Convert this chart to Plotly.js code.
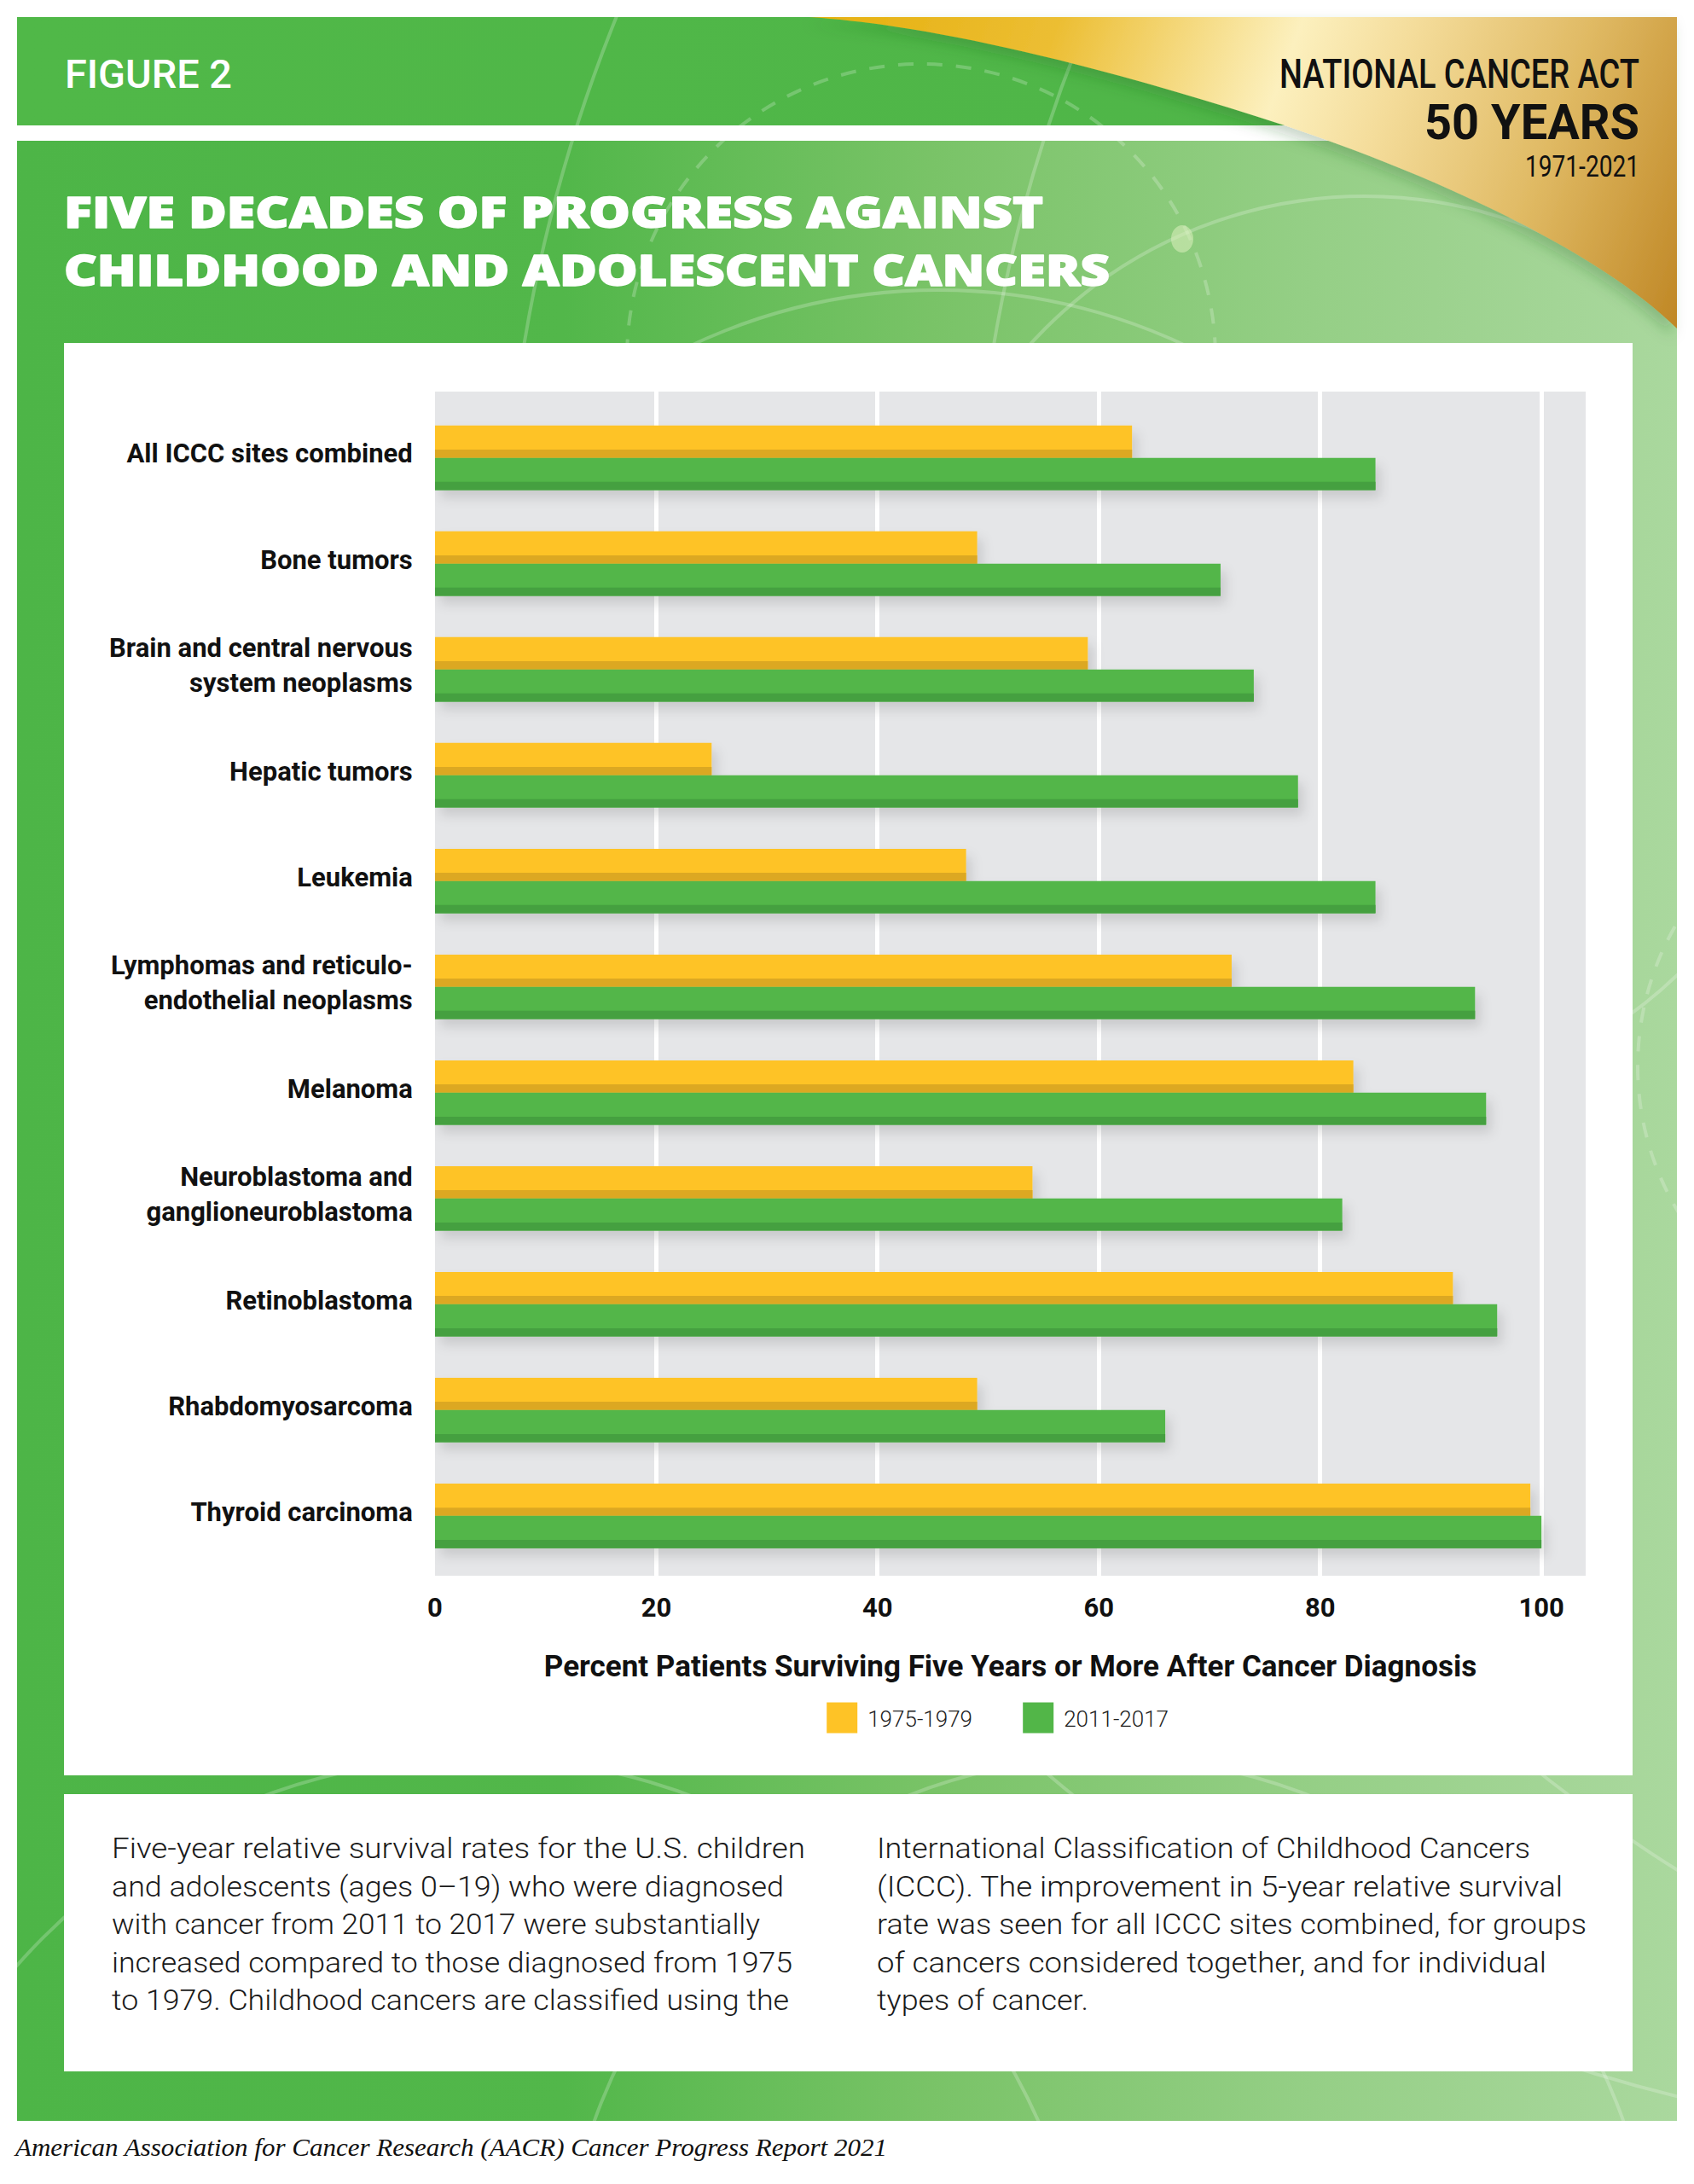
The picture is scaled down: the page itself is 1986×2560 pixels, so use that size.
<!DOCTYPE html>
<html>
<head>
<meta charset="utf-8">
<script src="https://cdn.plot.ly/plotly-3.0.1.min.js"></script>
<style>
  html, body { margin:0; padding:0; background:#fff; }
  body { width:1986px; height:2560px; position:relative; overflow:hidden; }
  #bg { position:absolute; left:0; top:0; }
  #chart { position:absolute; left:75px; top:402px; width:1839px; height:1679px; }
  #chart .barlayer { filter:url(#barShadow); }
</style>
</head>
<body>
<svg id="bg" width="1986" height="2560" xmlns="http://www.w3.org/2000/svg">
  <defs>
    <linearGradient id="panelGrad" gradientUnits="userSpaceOnUse" x1="20" y1="0" x2="1966" y2="0">
      <stop offset="0" stop-color="#4DB547"/>
      <stop offset="0.33" stop-color="#52B74A"/>
      <stop offset="0.55" stop-color="#79C367"/>
      <stop offset="0.78" stop-color="#95CF86"/>
      <stop offset="1" stop-color="#AAD89E"/>
    </linearGradient>
    <linearGradient id="headGrad" gradientUnits="userSpaceOnUse" x1="20" y1="0" x2="1966" y2="0">
      <stop offset="0" stop-color="#50B848"/>
      <stop offset="1" stop-color="#4FB548"/>
    </linearGradient>
    <linearGradient id="goldGrad" gradientUnits="userSpaceOnUse" x1="960" y1="20" x2="1960" y2="390">
      <stop offset="0" stop-color="#E6B00F"/>
      <stop offset="0.25" stop-color="#ECBE33"/>
      <stop offset="0.5" stop-color="#FCF0BE"/>
      <stop offset="0.62" stop-color="#F4DC9A"/>
      <stop offset="0.8" stop-color="#E0BA64"/>
      <stop offset="1" stop-color="#C08826"/>
    </linearGradient>
    <clipPath id="frameClip">
      <rect x="20" y="20" width="1946" height="127"/>
      <rect x="20" y="165" width="1946" height="2321"/>
    </clipPath>
    <filter id="barShadow" x="-5%" y="-5%" width="112%" height="115%">
      <feDropShadow dx="6" dy="9" stdDeviation="7" flood-color="#000" flood-opacity="0.12"/>
    </filter>
    <filter id="goldShadow" x="-10%" y="-10%" width="120%" height="140%">
      <feDropShadow dx="-6" dy="8" stdDeviation="8" flood-color="#1d5a1a" flood-opacity="0.25"/>
    </filter>
  </defs>

  <!-- frame -->
  <rect x="20" y="20" width="1946" height="127" fill="url(#headGrad)"/>
  <rect x="20" y="165" width="1946" height="2321" fill="url(#panelGrad)"/>

  <!-- decorative orbits -->
  <g clip-path="url(#frameClip)" fill="none" stroke="rgba(255,255,255,0.22)" stroke-width="4">
    <circle cx="2400" cy="700" r="1810"/>
    <circle cx="2900" cy="700" r="1760"/>
    <circle cx="1100" cy="1020" r="680"/>
    <circle cx="1600" cy="760" r="530"/>
    <circle cx="1080" cy="420" r="345" stroke-dasharray="18 16"/>
    <circle cx="560" cy="2780" r="720"/>
    <circle cx="1300" cy="2700" r="640"/>
    <circle cx="2250" cy="1250" r="330" stroke-dasharray="18 16"/>
  </g>
  <ellipse cx="1386" cy="280" rx="13" ry="16" fill="rgba(220,240,190,0.55)"/>

  <!-- gold corner -->
  <path d="M949,20 C1100,30 1300,80 1506,147 C1700,212 1880,300 1966,385 L1966,20 Z" fill="url(#goldGrad)" filter="url(#goldShadow)"/>

  <!-- header texts -->
  <text x="76" y="103" font-family="Roboto, sans-serif" font-weight="500" font-size="46" fill="#ffffff" textLength="196" lengthAdjust="spacingAndGlyphs">FIGURE 2</text>
  <g id="badge" font-family="Roboto, sans-serif" fill="#111" text-anchor="end">
    <text class="fit" data-w="422" data-x="1922" data-y="103" font-weight="500" font-size="48">NATIONAL CANCER ACT</text>
    <text class="fit" data-w="252" data-x="1922" data-y="163" font-weight="700" font-size="58">50 YEARS</text>
    <text class="fit" data-w="134" data-x="1922" data-y="207" font-weight="400" font-size="35">1971-2021</text>
  </g>

  <g font-family="'Open Sans', Roboto, sans-serif" font-weight="800" font-size="50" fill="#ffffff" stroke="#ffffff" stroke-width="1.4" stroke-linejoin="round">
    <text x="75" y="267" textLength="1148" lengthAdjust="spacingAndGlyphs">FIVE DECADES OF PROGRESS AGAINST</text>
    <text x="75" y="335" textLength="1226" lengthAdjust="spacingAndGlyphs">CHILDHOOD AND ADOLESCENT CANCERS</text>
  </g>

  <!-- chart card -->
  <rect x="75" y="402" width="1839" height="1679" fill="#ffffff"/>

  <!-- caption box -->
  <rect x="75" y="2103" width="1839" height="325" fill="#ffffff"/>
  <g font-family="Roboto, sans-serif" font-weight="300" font-size="33" fill="#1a1a1a">
    <text x="131" y="2178" textLength="813" lengthAdjust="spacingAndGlyphs">Five-year relative survival rates for the U.S. children</text>
    <text x="131" y="2222.5" textLength="788" lengthAdjust="spacingAndGlyphs">and adolescents (ages 0–19) who were diagnosed</text>
    <text x="131" y="2267" textLength="760" lengthAdjust="spacingAndGlyphs">with cancer from 2011 to 2017 were substantially</text>
    <text x="131" y="2311.5" textLength="798" lengthAdjust="spacingAndGlyphs">increased compared to those diagnosed from 1975</text>
    <text x="131" y="2356" textLength="794" lengthAdjust="spacingAndGlyphs">to 1979. Childhood cancers are classified using the</text>
    <text x="1028" y="2178" textLength="766" lengthAdjust="spacingAndGlyphs">International Classification of Childhood Cancers</text>
    <text x="1028" y="2222.5" textLength="804" lengthAdjust="spacingAndGlyphs">(ICCC). The improvement in 5-year relative survival</text>
    <text x="1028" y="2267" textLength="832" lengthAdjust="spacingAndGlyphs">rate was seen for all ICCC sites combined, for groups</text>
    <text x="1028" y="2311.5" textLength="785" lengthAdjust="spacingAndGlyphs">of cancers considered together, and for individual</text>
    <text x="1028" y="2356" textLength="248" lengthAdjust="spacingAndGlyphs">types of cancer.</text>
  </g>

  <!-- source -->
  <text x="18" y="2527" font-family="'Liberation Serif', 'DejaVu Serif', serif" font-style="italic" font-size="30" fill="#111" textLength="1022" lengthAdjust="spacingAndGlyphs">American Association for Cancer Research (AACR) Cancer Progress Report 2021</text>
</svg>

<div id="chart"></div>

<script>
// condensed badge lettering: scale each line horizontally to its measured width
function fitBadge(){
  document.querySelectorAll("#badge text.fit").forEach(function(t){
    t.setAttribute("x", 0); t.setAttribute("y", 0);
    var natural = t.getComputedTextLength() || 1;
    var sx = (+t.dataset.w) / natural;
    t.setAttribute("transform", "translate(" + t.dataset.x + "," + t.dataset.y + ") scale(" + sx.toFixed(4) + ",1)");
  });
}
fitBadge();
if (document.fonts && document.fonts.ready) document.fonts.ready.then(fitBadge);

// ---- data ----
const categories = [
  "All ICCC sites combined",
  "Bone tumors",
  "Brain and central nervous<br>system neoplasms",
  "Hepatic tumors",
  "Leukemia",
  "Lymphomas and reticulo-<br>endothelial neoplasms",
  "Melanoma",
  "Neuroblastoma and<br>ganglioneuroblastoma",
  "Retinoblastoma",
  "Rhabdomyosarcoma",
  "Thyroid carcinoma"
];
const survival_1975_1979 = [63, 49, 59, 25, 48, 72, 83, 54, 92, 49, 99];
const survival_2011_2017 = [85, 71, 74, 78, 85, 94, 95, 82, 96, 66, 100];
const seriesNames = ["1975-1979", "2011-2017"];
const xTickValues = [0, 20, 40, 60, 80, 100];
const xAxisTitle = "Percent Patients Surviving Five Years or More After Cancer Diagnosis";

// ---- styling ----
const YELLOW = "#FEC326", YELLOW_DARK = "#DCA823";
const GREEN = "#52B648", GREEN_DARK = "#45A03F";
const BAR_W = 0.305, STRIP_W = 0.078;
const LABEL_FONT = "Roboto, sans-serif";

const traces = [
  { type:"bar", orientation:"h", name:seriesNames[0], y:categories, x:survival_1975_1979,
    marker:{color:YELLOW}, width:BAR_W, offset:-BAR_W, hoverinfo:"x+y" },
  { type:"bar", orientation:"h", name:seriesNames[0]+" shade", y:categories, x:survival_1975_1979,
    marker:{color:YELLOW_DARK}, width:STRIP_W, offset:-STRIP_W, showlegend:false, hoverinfo:"skip" },
  { type:"bar", orientation:"h", name:seriesNames[1], y:categories, x:survival_2011_2017,
    marker:{color:GREEN}, width:BAR_W, offset:0, hoverinfo:"x+y" },
  { type:"bar", orientation:"h", name:seriesNames[1]+" shade", y:categories, x:survival_2011_2017,
    marker:{color:GREEN_DARK}, width:STRIP_W, offset:BAR_W-STRIP_W, showlegend:false, hoverinfo:"skip" }
];

const layout = {
  width:1839, height:1679,
  margin:{l:435, r:55, t:57, b:234},
  paper_bgcolor:"rgba(0,0,0,0)",
  plot_bgcolor:"#E5E6E8",
  barmode:"overlay",
  showlegend:true,
  legend:{
    orientation:"h", x:0.502, y:-0.120, xanchor:"center", yanchor:"middle",
    font:{family:"Roboto, sans-serif", size:26, color:"#222", weight:300},
    itemwidth:50, entrywidth:165, entrywidthmode:"pixels",
    traceorder:"normal", bgcolor:"rgba(0,0,0,0)", itemclick:false, itemdoubleclick:false
  },
  xaxis:{
    range:[0, 104], tickvals:xTickValues, ticktext:xTickValues.map(String),
    showgrid:true, gridcolor:"#FFFFFF", gridwidth:5,
    zeroline:false, showline:false,
    ticks:"outside", ticklen:10, tickcolor:"rgba(0,0,0,0)",
    tickfont:{family:LABEL_FONT, size:31, color:"#111", weight:700},
    title:{text:xAxisTitle, font:{family:LABEL_FONT, size:35, color:"#111", weight:700}, standoff:38},
    fixedrange:true, automargin:false
  },
  yaxis:{
    type:"category", categoryorder:"array", categoryarray:categories,
    range:[10.566, -0.626],
    showgrid:false, zeroline:false, showline:false,
    ticks:"outside", ticklen:19, tickcolor:"rgba(0,0,0,0)",
    ticklabelshift:5,
    tickfont:{family:LABEL_FONT, size:31, color:"#111", weight:700},
    fixedrange:true, automargin:false
  },
  hovermode:false
};

Plotly.newPlot("chart", traces, layout, {displayModeBar:false, staticPlot:true}).then(function(gd){
  // enlarge legend swatches to the square size used in the figure
  gd.querySelectorAll(".legend .legendpoints path").forEach(function(p){
    p.setAttribute("d", "M18,18H-18V-18H18Z");
    p.style.strokeWidth = "0";
  });
});
</script>
</body>
</html>
